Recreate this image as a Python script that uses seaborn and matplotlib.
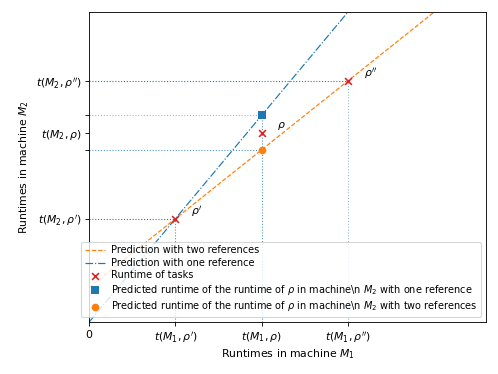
import numpy as np
import pandas as pd
import matplotlib
matplotlib.use('Agg')
import matplotlib.pyplot as plt
import seaborn as sns

# runtimes of the three tasks rho', rho, rho''
t_m1 = [1.0, 2.0, 3.0]
t_m2 = [1.2, 2.2, 2.8]
task_names = [r"$\rho'$", r"$\rho$", r"$\rho''$"]

# predictions for rho (the middle task)
pred_one_ref = 2.4
pred_two_ref = 2.0

xticks = [0, t_m1[0], t_m1[1], t_m1[2]]
xticklabels = ["0", r"$t(M_1, \rho')$", r"$t(M_1, \rho)$", r"$t(M_1, \rho'')$"]
yticks = [t_m2[0], pred_two_ref, t_m2[1], pred_one_ref, t_m2[2]]
yticklabels = [r"$t(M_2, \rho')$", "", r"$t(M_2, \rho)$", "", r"$t(M_2, \rho'')$"]

fig = plt.figure(figsize=(498 / 78, 374 / 78), dpi=78)
ax = fig.add_subplot(111)
fig.subplots_adjust(left=0.179, right=0.976, bottom=0.139, top=0.968)

# prediction lines
xs = np.array([0, 4.6])
slope_two = (t_m2[2] - t_m2[0]) / (t_m1[2] - t_m1[0])
two_ref = t_m2[0] + slope_two * (xs - t_m1[0])
one_ref = t_m2[0] / t_m1[0] * xs

sns.lineplot(x=xs, y=two_ref, ax=ax, color='tab:orange', linestyle='--',
             linewidth=1.1, label='Prediction with two references')
sns.lineplot(x=xs, y=one_ref, ax=ax, color='tab:blue', linestyle='-.',
             linewidth=1.1, label='Prediction with one reference')

# helper lines
ax.hlines(t_m2[2], 0, t_m1[2], colors='tab:blue', linestyles=':', linewidth=1)
ax.hlines(pred_one_ref, 0, t_m1[1], colors='tab:blue', linestyles=':', linewidth=1, alpha=0.5)
ax.hlines(pred_two_ref, 0, t_m1[1], colors='tab:blue', linestyles=':', linewidth=1, alpha=0.8)
ax.hlines(t_m2[0], 0, t_m1[0], colors='tab:blue', linestyles=':', linewidth=1)
ax.vlines(t_m1[0], 0, t_m2[0], colors='tab:blue', linestyles=':', linewidth=1, alpha=0.8)
ax.vlines(t_m1[1], 0, pred_one_ref, colors='tab:blue', linestyles=':', linewidth=1, alpha=0.8)
ax.vlines(t_m1[2], 0, t_m2[2], colors='tab:blue', linestyles=':', linewidth=1, alpha=0.5)

sns.scatterplot(x=t_m1, y=t_m2, ax=ax, color='tab:red', marker='x', s=40,
                linewidth=1.5, label='Runtime of tasks', zorder=3)
sns.scatterplot(x=[t_m1[1]], y=[pred_one_ref], ax=ax, color='tab:blue', marker='s', s=55,
                linewidth=0, zorder=3,
                label=r"Predicted runtime of the runtime of $\rho$ in machine\n $M_2$ with one reference")
sns.scatterplot(x=[t_m1[1]], y=[pred_two_ref], ax=ax, color='tab:orange', marker='o', s=50,
                linewidth=0, zorder=3,
                label=r"Predicted runtime of the runtime of $\rho$ in machine\n $M_2$ with two references")

for x, y, name in zip(t_m1, t_m2, task_names):
    ax.text(x + 0.18, y + 0.05, name, fontsize=10)

ax.set_xlim(0, 4.6)
ax.set_ylim(0, 3.6)
ax.set_xticks(xticks)
ax.set_xticklabels(xticklabels)
ax.set_yticks(yticks)
ax.set_yticklabels(yticklabels)
ax.set_xlabel(r"Runtimes in machine $M_1$", labelpad=2)
ax.set_ylabel(r"Runtimes in machine $M_2$")
ax.legend(loc='lower right', fontsize=9, handletextpad=0.6, labelspacing=0.25)

fig.savefig('out.png', dpi=78)
